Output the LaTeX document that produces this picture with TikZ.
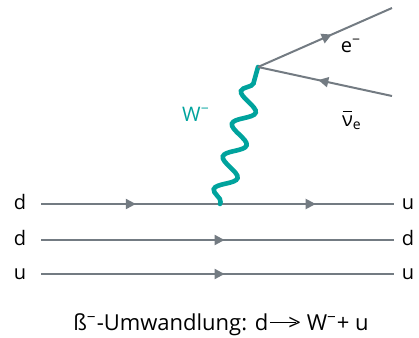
\documentclass[tikz,border=0pt]{standalone}
\usepackage{fontspec}
\setmainfont{Open Sans}
\usetikzlibrary{arrows.meta, decorations.pathmorphing, decorations.markings}
\definecolor{quarkgray}{HTML}{737B82}
\definecolor{bosonteal}{HTML}{00A39D}
\newcommand{\antinu}{\rlap{\kern0.04em\rule[0.7em]{0.44em}{0.055em}}ν}

\begin{document}
\begin{tikzpicture}[
    x=0.5pt, y=-0.5pt,
    font=\fontsize{10}{12}\selectfont,
    quark/.style={color=quarkgray, line width=1pt},
    midarrow/.style={postaction={decorate}, decoration={markings,
        mark=at position #1 with {\arrow{Triangle[length=5pt, width=5pt]}}}},
    boson/.style={color=bosonteal, line width=2.3pt, line cap=round,
        decorate, decoration={snake, segment length=17pt, amplitude=5pt,
        pre length=1pt, post length=1pt}},
    lbl/.style={inner sep=0pt, anchor=base},
]
\useasboundingbox (0,0) rectangle (419,338);

% quark lines
\foreach \i/\y/\ql/\qr in {1/204/d/u, 2/240/d/d, 3/274/u/u} {
    \node[lbl] (qL\i) at (20, \y+5) {\ql};
    \node[lbl] (qR\i) at (408, \y+5) {\qr};
    \coordinate (a\i) at (41, \y);
    \coordinate (b\i) at (394, \y);
}
\coordinate (v1) at (220, 204);
\draw[quark, midarrow=0.53] (a1) -- (v1);
\draw[quark, midarrow=0.55] (v1) -- (b1);
\draw[quark, midarrow=0.52] (a2) -- (b2);
\draw[quark, midarrow=0.52] (a3) -- (b3);

% W boson and leptons
\coordinate (v2) at (258, 67);
\coordinate (eout) at (392, 8);
\coordinate (nuin) at (392, 96);
\draw[boson] (v1) -- (v2);
\node[lbl, text=bosonteal] (wlab) at (196, 121) {W\textsuperscript{−}};
\draw[quark, midarrow=0.55] (v2) -- (eout);
\draw[quark, midarrow=0.55] (nuin) -- (v2);
\node[lbl] (elab) at (351, 52) {e\textsuperscript{−}};
\node[lbl] (nulab) at (352, 126) {\antinu\textsubscript{e}};

\node[lbl] (caption) at (221, 330) {\fontsize{11}{13}\selectfont ß\textsuperscript{−}-Umwandlung: d\kern1pt\rule[0.3em]{1.15em}{0.06em}\kern-0.32em> W\textsuperscript{−}+ u};
\end{tikzpicture}
\end{document}
